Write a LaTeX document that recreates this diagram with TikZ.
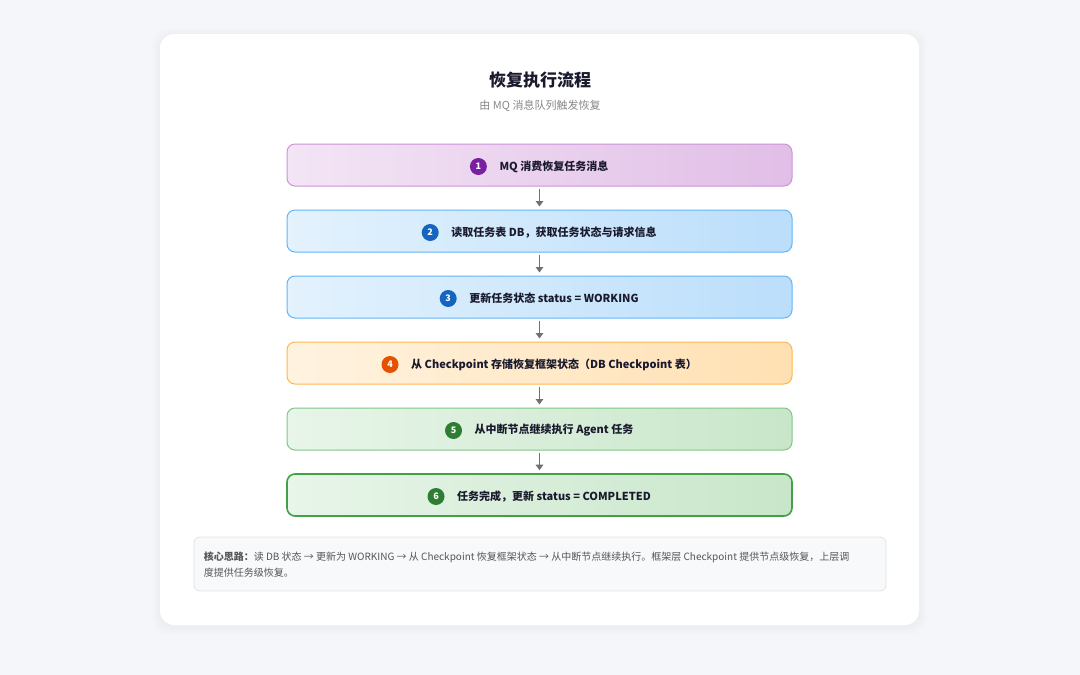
\documentclass[tikz,border=0pt]{standalone}
\usepackage{fontspec}
\setmainfont{Noto Sans CJK SC}
\usetikzlibrary{arrows.meta,positioning}
\definecolor{bg}{HTML}{F5F6FA}
\definecolor{ink}{HTML}{1A1A2E}
\definecolor{subg}{HTML}{888888}
\definecolor{pA}{HTML}{F3E5F5}\definecolor{pB}{HTML}{E1BEE7}\definecolor{pD}{HTML}{CE93D8}\definecolor{pC}{HTML}{7B1FA2}
\definecolor{bA}{HTML}{E3F2FD}\definecolor{bB}{HTML}{BBDEFB}\definecolor{bD}{HTML}{64B5F6}\definecolor{bC}{HTML}{1565C0}
\definecolor{oA}{HTML}{FFF3E0}\definecolor{oB}{HTML}{FFE0B2}\definecolor{oD}{HTML}{FFB74D}\definecolor{oC}{HTML}{E65100}
\definecolor{gA}{HTML}{E8F5E9}\definecolor{gB}{HTML}{C8E6C9}\definecolor{gD}{HTML}{81C784}\definecolor{gC}{HTML}{2E7D32}\definecolor{gE}{HTML}{43A047}
\definecolor{noteF}{HTML}{F8F9FA}\definecolor{noteD}{HTML}{E3E5E8}\definecolor{noteT}{HTML}{555555}
\definecolor{arrC}{HTML}{707070}
\tikzset{
  stepbox/.style={draw, line width=1pt, rounded corners=8pt, minimum width=505pt, minimum height=42pt, inner sep=0pt},
  purplebox/.style={stepbox, left color=pA, right color=pB, draw=pD},
  bluebox/.style={stepbox, left color=bA, right color=bB, draw=bD},
  orangebox/.style={stepbox, left color=oA, right color=oB, draw=oD},
  greenbox/.style={stepbox, left color=gA, right color=gB, draw=gD},
  steplabel/.style={inner sep=0pt, font=\fontsize{11pt}{13pt}\selectfont\bfseries, text=ink, anchor=center},
  badge/.style={circle, minimum size=17pt, inner sep=0pt, text=white, font=\fontsize{9pt}{10pt}\selectfont\bfseries},
  arr/.style={draw=arrC, line width=1.5pt, -{Triangle[length=5.5pt,width=7.5pt]}},
}
\begin{document}
\begin{tikzpicture}[x=1pt,y=-1pt]
\useasboundingbox (0,0) rectangle (1080,675);
\fill[bg] (0,0) rectangle (1080,675);
% card shadow
\foreach \i in {1,...,8}{
  \fill[black, opacity=0.005, rounded corners=16pt] (160-\i,34-\i+2) rectangle (919+\i,625+\i+2);
}
\fill[white, rounded corners=14pt] (160,34) rectangle (919,625);
% title
\node[font=\fontsize{17pt}{20pt}\selectfont\bfseries, text=ink] (title) at (540,80) {恢复执行流程};
\node[font=\fontsize{11pt}{13pt}\selectfont, text=subg] (sub) at (540,106) {由 MQ 消息队列触发恢复};
% boxes
\node[purplebox] (b1) at (539.5,165) {};
\node[bluebox] (b2) at (539.5,231) {};
\node[bluebox] (b3) at (539.5,297) {};
\node[orangebox] (b4) at (539.5,363) {};
\node[greenbox] (b5) at (539.5,429) {};
\node[greenbox, draw=gE, line width=1.6pt] (b6) at (539.5,495) {};
% labels
\node[steplabel] (t1) at ([yshift=-1.5pt]b1.center) {\hspace*{29pt}MQ 消费恢复任务消息};
\node[steplabel] (t2) at ([yshift=-1.5pt]b2.center) {\hspace*{29pt}读取任务表 DB，获取任务状态与请求信息};
\node[steplabel] (t3) at ([yshift=-1.5pt]b3.center) {\hspace*{29pt}更新任务状态 status = WORKING};
\node[steplabel] (t4) at ([yshift=-1.5pt]b4.center) {\hspace*{29pt}从 Checkpoint 存储恢复框架状态（DB Checkpoint 表）};
\node[steplabel] (t5) at ([yshift=-1.5pt]b5.center) {\hspace*{29pt}从中断节点继续执行 Agent 任务};
\node[steplabel] (t6) at ([yshift=-1.5pt]b6.center) {\hspace*{29pt}任务完成，更新 status = COMPLETED};
\node[badge, fill=pC] (c1) at ([xshift=8pt]t1.west) {1};
\node[badge, fill=bC] (c2) at ([xshift=8pt]t2.west) {2};
\node[badge, fill=bC] (c3) at ([xshift=8pt]t3.west) {3};
\node[badge, fill=oC] (c4) at ([xshift=8pt]t4.west) {4};
\node[badge, fill=gC] (c5) at ([xshift=8pt]t5.west) {5};
\node[badge, fill=gC] (c6) at ([xshift=8pt]t6.west) {6};
% arrows
\draw[arr] ([yshift=-2pt]b1.south) -- ([yshift=3pt]b2.north);
\draw[arr] ([yshift=-2pt]b2.south) -- ([yshift=3pt]b3.north);
\draw[arr] ([yshift=-2pt]b3.south) -- ([yshift=3pt]b4.north);
\draw[arr] ([yshift=-2pt]b4.south) -- ([yshift=3pt]b5.north);
\draw[arr] ([yshift=-2pt]b5.south) -- ([yshift=3pt]b6.north);
% note
\node[draw=noteD, fill=noteF, line width=0.8pt, rounded corners=6pt, minimum width=692pt, minimum height=54pt, inner sep=0pt] (note) at (540,564) {};
\node[anchor=north west, inner sep=0pt, align=left, text=noteT, font=\fontsize{10pt}{16.5pt}\selectfont] (notetext) at ([xshift=10pt,yshift=-15pt]note.north west)
  {\textbf{核心思路：}读 DB 状态 → 更新为 WORKING → 从 Checkpoint 恢复框架状态 → 从中断节点继续执行。框架层 Checkpoint 提供节点级恢复，上层调\\度提供任务级恢复。};
\end{tikzpicture}
\end{document}
